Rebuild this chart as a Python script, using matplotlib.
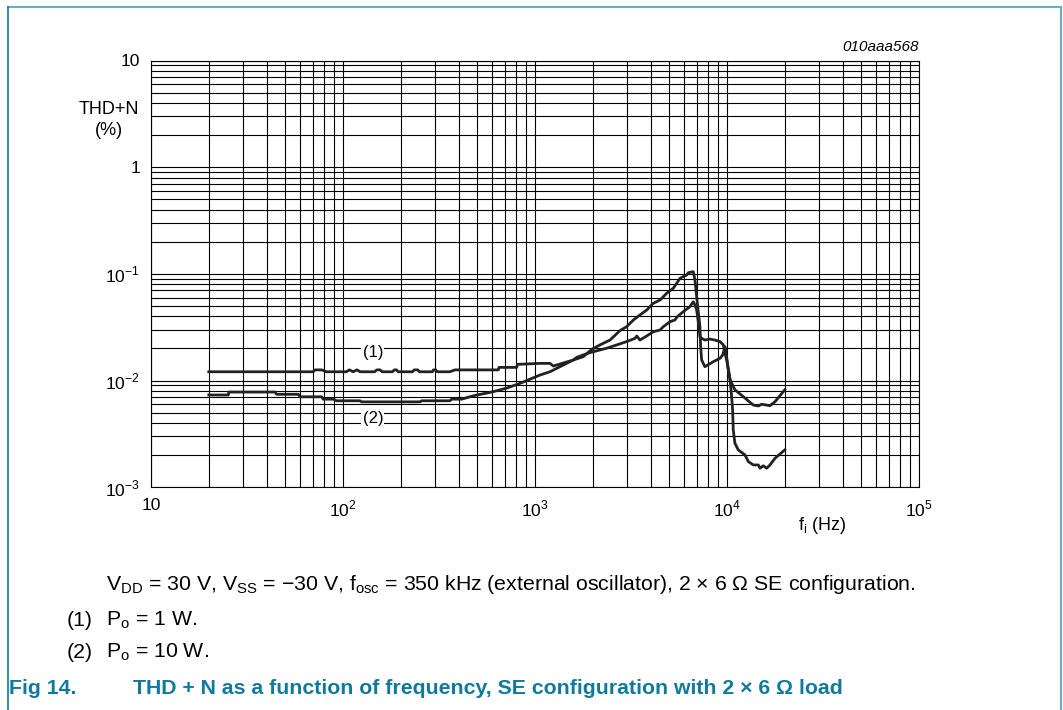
import numpy as np
import matplotlib.pyplot as plt
from matplotlib.lines import Line2D
from matplotlib.ticker import LogLocator, NullFormatter

plt.rcParams['font.family'] = ['Liberation Sans', 'DejaVu Sans']
plt.rcParams['mathtext.fontset'] = 'custom'
plt.rcParams['mathtext.rm'] = 'Liberation Sans'

# curve (1): Po = 1 W
freq_1 = [20, 70, 71.5, 77.5, 82, 104, 108, 113, 118, 123, 146, 150, 156, 160,
          181, 185, 190, 194, 230, 235, 245, 250, 292, 296, 304, 310, 360, 383,
          644, 650, 803, 810, 1062, 1197, 1245, 1349, 1583, 1648, 1785, 1932,
          2360, 2665, 3000, 3320, 3390, 3520, 3820, 4130, 4480, 4660, 5040,
          5360, 5470, 5920, 6410, 6670, 6810, 6950, 7100, 7230, 7380, 7670,
          8140, 8640, 9200, 9570, 9770, 9960, 10160, 10380, 11000, 12170,
          13710, 14560, 15160, 16750, 17780, 20000]
thd_1 = [0.0121, 0.0121, 0.0126, 0.0126, 0.0121, 0.0121, 0.0126, 0.0121, 0.0126,
         0.0121, 0.0121, 0.0126, 0.0126, 0.0121, 0.0121, 0.0126, 0.0126, 0.0121,
         0.0121, 0.0126, 0.0126, 0.0121, 0.0121, 0.0126, 0.0126, 0.0121, 0.0121,
         0.0126, 0.0126, 0.0133, 0.0133, 0.0142, 0.0145, 0.0145, 0.0137, 0.0143,
         0.0156, 0.0165, 0.0174, 0.0183, 0.0201, 0.0216, 0.0232, 0.0249, 0.0262,
         0.024, 0.0262, 0.0287, 0.0298, 0.032, 0.0356, 0.037, 0.0392, 0.0443,
         0.0493, 0.0548, 0.0511, 0.0459, 0.0346, 0.0258, 0.0249, 0.024, 0.0245,
         0.024, 0.0232, 0.0216, 0.018, 0.0156, 0.0126, 0.0101, 0.0082, 0.00706,
         0.0059, 0.00578, 0.0060, 0.00582, 0.00634, 0.0082]

# curve (2): Po = 10 W
freq_2 = [20, 25.3, 25.4, 44.3, 45.1, 58.5, 59.8, 77.5, 78.8, 89.2, 92.5, 122.6,
          124.9, 252, 257, 361, 368, 415, 477, 607, 711, 835, 1062, 1197, 1349,
          1583, 1785, 1974, 2180, 2460, 2770, 3000, 3255, 3520, 3820, 4130,
          4480, 4850, 5250, 5470, 5690, 6170, 6290, 6670, 6810, 6950, 7100,
          7230, 7290, 7380, 7670, 8480, 9200, 9500, 9770, 9960, 10160, 10380,
          10570, 10700, 10780, 11000, 11450, 12410, 12920, 13710, 14560,
          14850, 15450, 16100, 16750, 17780, 20000]
thd_2 = [0.00733, 0.00733, 0.00781, 0.00781, 0.00744, 0.00744, 0.00705, 0.00705,
         0.0067, 0.0067, 0.00647, 0.00647, 0.00632, 0.00632, 0.00647, 0.00647,
         0.0067, 0.0067, 0.0072, 0.00788, 0.0085, 0.00942, 0.01128, 0.0121,
         0.0135, 0.0156, 0.01675, 0.0196, 0.0216, 0.024, 0.0294, 0.032, 0.037,
         0.0412, 0.0459, 0.053, 0.0569, 0.0658, 0.0733, 0.0817, 0.091, 0.0977,
         0.1026, 0.105, 0.0877, 0.0611, 0.0428, 0.032, 0.0208, 0.0156, 0.0135,
         0.01503, 0.0162, 0.0174, 0.0208, 0.0165, 0.0128, 0.0102, 0.00706,
         0.0053, 0.00344, 0.00258, 0.00224, 0.00201, 0.00174, 0.00162, 0.00162,
         0.00151, 0.00159, 0.00151, 0.00162, 0.00187, 0.00224]

teal = '#0f7a9c'

fig = plt.figure(figsize=(10.63, 7.10), dpi=100)
ax = fig.add_axes([151 / 1063, 1 - 487.3 / 710, 768 / 1063, 426.8 / 710])

ax.plot(freq_1, thd_1, color='#222222', lw=2.0, solid_joinstyle='round', zorder=3)
ax.plot(freq_2, thd_2, color='#222222', lw=2.0, solid_joinstyle='round', zorder=3)

ax.set_xscale('log')
ax.set_yscale('log')
ax.set_xlim(10, 1e5)
ax.set_ylim(1e-3, 10)

ax.xaxis.set_minor_locator(LogLocator(base=10, subs=np.arange(2, 10)))
ax.yaxis.set_minor_locator(LogLocator(base=10, subs=np.arange(2, 10)))
ax.xaxis.set_minor_formatter(NullFormatter())
ax.yaxis.set_minor_formatter(NullFormatter())
ax.grid(True, which='both', color='black', lw=0.8)
ax.tick_params(which='both', length=0, labelsize=12.5, pad=8)
for s in ax.spines.values():
    s.set_linewidth(0.8)

ax.set_xticks([10, 100, 1000, 1e4, 1e5])
ax.set_xticklabels(['10', '$10^2$', '$10^3$', '$10^4$', '$10^5$'])
ax.set_yticks([1e-3, 1e-2, 1e-1, 1, 10])
ax.set_yticklabels(['$10^{\u22123}$', '$10^{\u22122}$', '$10^{\u22121}$', '1', '10'])

ax.text(-0.015, 0.86, 'THD+N\n(%)', transform=ax.transAxes, ha='right', va='center',
        fontsize=13, linespacing=1.3, multialignment='center')
ax.text(1.0, 1.015, '010aaa568', transform=ax.transAxes, ha='right', va='bottom',
        fontsize=11, style='italic')
fig.text(822 / 1063, 1 - 526 / 710, '$\\mathregular{f_i}$ (Hz)', ha='center',
         va='center', fontsize=13)

ax.text(143, 0.0182, '(1)', ha='center', va='center', fontsize=12,
        bbox=dict(facecolor='white', edgecolor='none', pad=1))
ax.text(143, 0.00446, '(2)', ha='center', va='center', fontsize=12,
        bbox=dict(facecolor='white', edgecolor='none', pad=1))

fig.text(106 / 1063, 1 - 585 / 710,
         '$\\mathregular{V_{DD}}$ = 30 V, $\\mathregular{V_{SS}}$ = \u221230 V, '
         '$\\mathregular{f_{osc}}$ = 350 kHz (external oscillator), 2 \u00d7 6 \u03a9 SE configuration.',
         ha='left', va='center', fontsize=15.3)
fig.text(67 / 1063, 1 - 620 / 710, '(1)', ha='left', va='center', fontsize=15.3)
fig.text(106 / 1063, 1 - 620 / 710, '$\\mathregular{P_o}$ = 1 W.', ha='left',
         va='center', fontsize=15.3)
fig.text(67 / 1063, 1 - 652 / 710, '(2)', ha='left', va='center', fontsize=15.3)
fig.text(106 / 1063, 1 - 652 / 710, '$\\mathregular{P_o}$ = 10 W.', ha='left',
         va='center', fontsize=15.3)
fig.text(9 / 1063, 1 - 688 / 710, 'Fig 14.', ha='left', va='center',
         fontsize=15.3, weight='bold', color=teal)
fig.text(133 / 1063, 1 - 688 / 710,
         'THD + N as a function of frequency, SE configuration with 2 \u00d7 6 \u03a9 load',
         ha='left', va='center', fontsize=15.3, weight='bold', color=teal)

# frame around the figure
border = '#6aaebf'
fig.add_artist(Line2D([8 / 1063, 1061 / 1063], [1 - 7 / 710, 1 - 7 / 710],
                      color=border, lw=1.5))
fig.add_artist(Line2D([8 / 1063, 8 / 1063], [1 - 7 / 710, 0], color=teal, lw=1.2))
fig.add_artist(Line2D([1061 / 1063, 1061 / 1063], [1 - 7 / 710, 0], color=border,
                      lw=1.5))

fig.savefig('out.png', dpi=100)
